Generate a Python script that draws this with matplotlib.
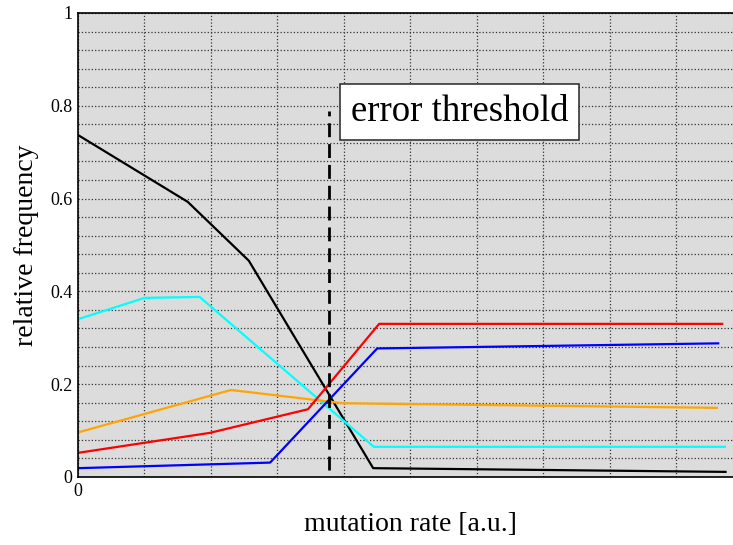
import matplotlib
matplotlib.use("Agg")
import matplotlib.pyplot as plt

plt.rcParams['font.family'] = ['Liberation Serif', 'DejaVu Serif']

# population fractions vs. mutation rate, one polyline per species
black_x = [0, 1.65, 2.57, 4.44, 9.74]
black_y = [0.737, 0.593, 0.466, 0.019, 0.011]
cyan_x = [0, 1.0, 1.83, 4.45, 9.73]
cyan_y = [0.340, 0.386, 0.388, 0.065, 0.065]
orange_x = [0, 2.30, 3.98, 9.61]
orange_y = [0.096, 0.1875, 0.159, 0.149]
red_x = [0, 1.98, 3.46, 4.53, 9.69]
red_y = [0.052, 0.095, 0.146, 0.330, 0.330]
blue_x = [0, 2.89, 4.50, 9.63]
blue_y = [0.019, 0.031, 0.277, 0.288]

threshold_x = 3.77
threshold_y = [0.015, 0.789]

fig = plt.figure(figsize=(7.33, 5.45), dpi=100)
ax = fig.add_axes([0.1064, 0.1248, 0.907, 0.8514])
ax.set_facecolor('#dcdcdc')

ax.set_xlim(0, 10)
ax.set_ylim(0, 1)
ax.set_xticks(range(0, 11))
ax.set_xticklabels(['0'] + [''] * 10)
ax.set_yticks([0, 0.2, 0.4, 0.6, 0.8, 1])
ax.set_yticklabels(['0', '0.2', '0.4', '0.6', '0.8', '1'])
ax.set_yticks([i * 0.04 for i in range(26)], minor=True)
ax.tick_params(length=0, labelsize=13, pad=4)
ax.tick_params(which='minor', length=0)

ax.grid(True, which='both', axis='y', color='0.2', linestyle=':', linewidth=0.9)
ax.grid(True, which='major', axis='x', color='0.2', linestyle=':', linewidth=0.9)
ax.set_axisbelow(True)

for s in ['left', 'bottom', 'top']:
    ax.spines[s].set_linewidth(1.2)
ax.spines['right'].set_visible(False)

ax.plot(black_x, black_y, color='black', lw=1.6)
ax.plot(cyan_x, cyan_y, color='cyan', lw=1.6)
ax.plot(orange_x, orange_y, color='orange', lw=1.6)
ax.plot(red_x, red_y, color='red', lw=1.6)
ax.plot(blue_x, blue_y, color='blue', lw=1.6)

ax.plot([threshold_x, threshold_x], threshold_y, color='black', lw=2,
        linestyle=(0, (5, 2.5)))

ax.text(5.74, 0.787, 'error threshold', fontsize=26.5, ha='center', va='center',
        bbox=dict(boxstyle='square,pad=0.3', facecolor='white',
                  edgecolor='0.15', linewidth=1.1))

ax.set_xlabel('mutation rate [a.u.]', fontsize=20, labelpad=9)
ax.set_ylabel('relative frequency', fontsize=20, labelpad=8)

fig.savefig('out.png', dpi=100)
